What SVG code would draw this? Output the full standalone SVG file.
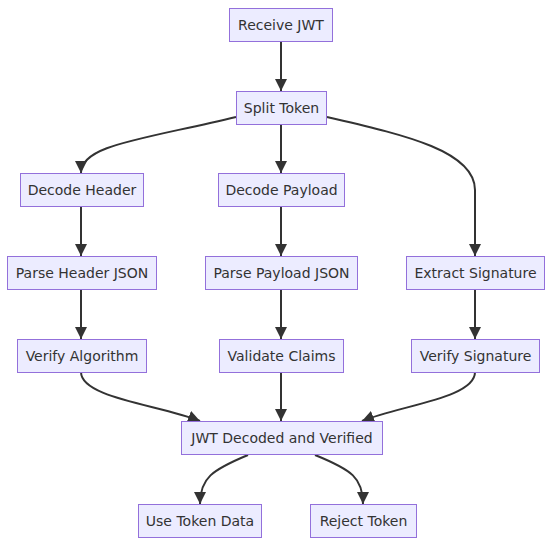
<svg xmlns="http://www.w3.org/2000/svg" width="560" height="554" viewBox="0 0 560 554">
<style>
.node rect{fill:#ECECFF;stroke:#9370DB;stroke-width:1}
.node text{font-family:"DejaVu Sans",Verdana,sans-serif;font-size:14px;fill:#333;text-anchor:middle;dominant-baseline:central}
.edge{fill:none;stroke:#333;stroke-width:2}
</style>
<defs>
<marker id="arrow" viewBox="0 0 10 10" refX="10" refY="5" markerWidth="12" markerHeight="12" markerUnits="userSpaceOnUse" orient="auto">
<path d="M0,0 L10,5 L0,10 z" fill="#333"/>
</marker>
</defs>
<rect width="560" height="554" fill="#ffffff"/>
<g id="connectors">
<path class="edge" marker-end="url(#arrow)" d="M281,41 L281,91"/>
<path class="edge" marker-end="url(#arrow)" d="M236,117 C 140,140 81,145 81,173"/>
<path class="edge" marker-end="url(#arrow)" d="M281,124 L281,173"/>
<path class="edge" marker-end="url(#arrow)" d="M327,117 C 400,134 475,150 475,190 L475,256"/>
<path class="edge" marker-end="url(#arrow)" d="M81,206 L81,256"/>
<path class="edge" marker-end="url(#arrow)" d="M281,206 L281,256"/>
<path class="edge" marker-end="url(#arrow)" d="M81,289 L81,339"/>
<path class="edge" marker-end="url(#arrow)" d="M281,289 L281,339"/>
<path class="edge" marker-end="url(#arrow)" d="M475,289 L475,339"/>
<path class="edge" marker-end="url(#arrow)" d="M81,372 C 81,398 160,405 200,421"/>
<path class="edge" marker-end="url(#arrow)" d="M281,372 L281,421"/>
<path class="edge" marker-end="url(#arrow)" d="M475,372 C 475,398 402,405 362,421"/>
<path class="edge" marker-end="url(#arrow)" d="M248,455 C 212,470 200,478 200,504"/>
<path class="edge" marker-end="url(#arrow)" d="M315,455 C 352,470 363,478 363,504"/>
</g>
<g id="receive" class="node"><rect x="229.5" y="8.5" width="103" height="33"/><text x="281" y="25">Receive JWT</text></g>
<g id="split" class="node"><rect x="236.5" y="91.5" width="90" height="33"/><text x="281.5" y="108">Split Token</text></g>
<g id="decodeHeader" class="node"><rect x="20.5" y="173.5" width="123" height="33"/><text x="82" y="190">Decode Header</text></g>
<g id="decodePayload" class="node"><rect x="218.5" y="173.5" width="126" height="33"/><text x="281.5" y="190">Decode Payload</text></g>
<g id="parseHeader" class="node"><rect x="7.5" y="256.5" width="149" height="33"/><text x="82" y="273">Parse Header JSON</text></g>
<g id="parsePayload" class="node"><rect x="205.5" y="256.5" width="152" height="33"/><text x="281.5" y="273">Parse Payload JSON</text></g>
<g id="extractSig" class="node"><rect x="406.5" y="256.5" width="138" height="33"/><text x="475.5" y="273">Extract Signature</text></g>
<g id="verifyAlg" class="node"><rect x="17.5" y="339.5" width="129" height="33"/><text x="82" y="356">Verify Algorithm</text></g>
<g id="validateClaims" class="node"><rect x="219.5" y="339.5" width="124" height="33"/><text x="281.5" y="356">Validate Claims</text></g>
<g id="verifySig" class="node"><rect x="411.5" y="339.5" width="128" height="33"/><text x="475.5" y="356">Verify Signature</text></g>
<g id="jwtDone" class="node"><rect x="181.5" y="421.5" width="201" height="33"/><text x="282" y="438">JWT Decoded and Verified</text></g>
<g id="useToken" class="node"><rect x="138.5" y="504.5" width="123" height="33"/><text x="200" y="521">Use Token Data</text></g>
<g id="rejectToken" class="node"><rect x="310.5" y="504.5" width="106" height="33"/><text x="363.5" y="521">Reject Token</text></g>
</svg>
